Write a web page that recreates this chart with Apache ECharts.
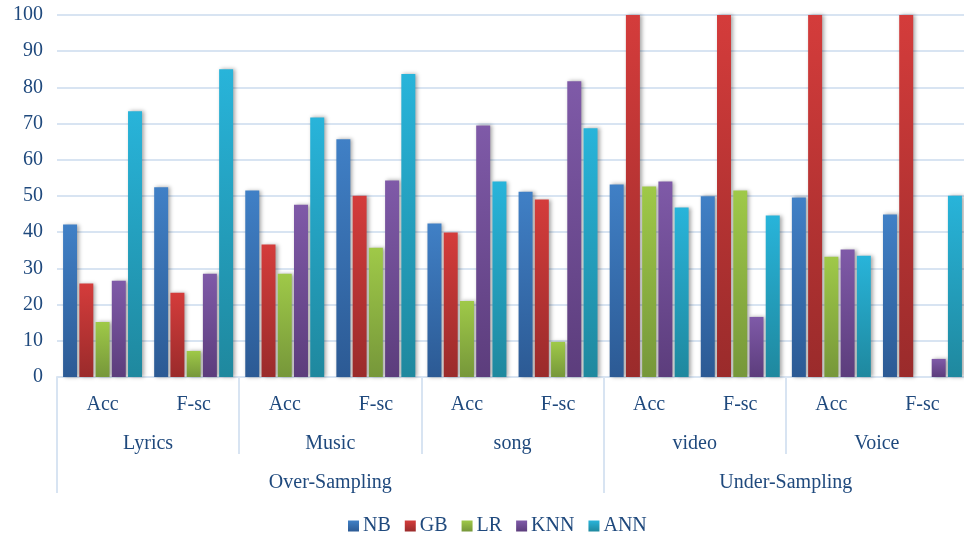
<!DOCTYPE html>
<html>
<head>
<meta charset="utf-8">
<script src="https://cdn.jsdelivr.net/npm/echarts@6/dist/echarts.min.js"></script>
<style>
html,body{margin:0;padding:0;background:#fff;overflow:hidden;width:964px;height:540px;}
#c{width:971px;height:540px;}
</style>
</head>
<body>
<div id="c"></div>
<script>
var metrics = ['Acc', 'F-sc'];
var datasets = ['Lyrics', 'Music', 'song', 'video', 'Voice'];
var samplings = ['Over-Sampling', 'Under-Sampling'];
var samplingSpan = [3, 2];
var seriesNames = ['NB', 'GB', 'LR', 'KNN', 'ANN'];
var NB  = [42.1, 52.4, 51.5, 65.7, 42.4, 51.2, 53.2, 49.9, 49.6, 44.9];
var GB  = [25.8, 23.3, 36.6, 50.1, 39.9, 49.0, 100, 100, 100, 100];
var LR  = [15.2, 7.2, 28.5, 35.7, 21.0, 9.7, 52.6, 51.5, 33.2, null];
var KNN = [26.6, 28.5, 47.6, 54.3, 69.5, 81.7, 54.0, 16.6, 35.2, 5.0];
var ANN = [73.4, 85.0, 71.7, 83.7, 54.0, 68.7, 46.8, 44.6, 33.5, 50.1];
var yTicks = [0, 100, 10];

var values = [NB, GB, LR, KNN, ANN];
var colors = [
  ['#4080c6', '#2c5a94'],
  ['#d43c3b', '#9a2b2b'],
  ['#9fc948', '#76973a'],
  ['#7f5aa8', '#5c3d7c'],
  ['#28b4da', '#1f889e']
];

var lvl1 = [];
datasets.forEach(function () { metrics.forEach(function (m) { lvl1.push(m); }); });
var nCat = lvl1.length;
var lvl3 = [];
for (var i = 0; i <= nCat; i++) lvl3.push('');
var lvl3Ticks = [0];
var pos = 0;
samplings.forEach(function (s, k) {
  var w = samplingSpan[k] * metrics.length;
  lvl3[pos + w / 2] = s;
  pos += w;
  lvl3Ticks.push(pos);
});

var txt = '#1f497d';
var font = 'Liberation Serif';
var chart = echarts.init(document.getElementById('c'));

var series = seriesNames.map(function (n, k) {
  return {
    name: n,
    type: 'bar',
    xAxisIndex: 0,
    data: values[k],
    barWidth: 14,
    barGap: '16%',
    itemStyle: {
      color: new echarts.graphic.LinearGradient(0, 0, 0, 1, [
        { offset: 0, color: colors[k][0] },
        { offset: 1, color: colors[k][1] }
      ]),
      shadowColor: 'rgba(0,0,0,0.35)',
      shadowBlur: 4,
      shadowOffsetX: 2,
      shadowOffsetY: 0
    }
  };
});

chart.setOption({
  animation: false,
  backgroundColor: '#fff',
  grid: { left: 57, right: 1, top: 15, bottom: 163, containLabel: false },
  legend: {
    data: seriesNames,
    top: 511,
    left: 343,
    icon: 'rect',
    itemWidth: 11,
    itemHeight: 11,
    itemGap: 14,
    textStyle: { color: txt, fontFamily: font, fontSize: 20, padding: [0, 0, 0, -1] }
  },
  yAxis: {
    type: 'value',
    min: yTicks[0], max: yTicks[1], interval: yTicks[2],
    axisLine: { show: false },
    axisTick: { show: false },
    axisLabel: { color: txt, fontFamily: font, fontSize: 20, margin: 14 },
    splitLine: { lineStyle: { color: '#d8e4f2', width: 2 } }
  },
  xAxis: [
    {
      type: 'category',
      data: lvl1,
      position: 'bottom',
      axisLine: { show: true, lineStyle: { color: '#d8e4f2', width: 2 } },
      axisTick: { show: false },
      axisLabel: { color: txt, fontFamily: font, fontSize: 20, margin: 18, interval: 0 }
    },
    {
      type: 'category',
      data: datasets,
      position: 'bottom',
      axisLine: { show: false },
      axisTick: { show: true, length: 77, interval: 0, lineStyle: { color: '#d8e4f2', width: 2 } },
      axisLabel: { color: txt, fontFamily: font, fontSize: 20, margin: 57, interval: 0 }
    },
    {
      type: 'category',
      data: lvl3,
      boundaryGap: false,
      position: 'bottom',
      axisLine: { show: false },
      axisTick: {
        show: true, length: 116,
        interval: function (idx) { return lvl3Ticks.indexOf(idx) >= 0; },
        lineStyle: { color: '#d8e4f2', width: 2 }
      },
      axisLabel: { color: txt, fontFamily: font, fontSize: 20, margin: 96, interval: 0 }
    }
  ],
  series: series
});
</script>
</body>
</html>
